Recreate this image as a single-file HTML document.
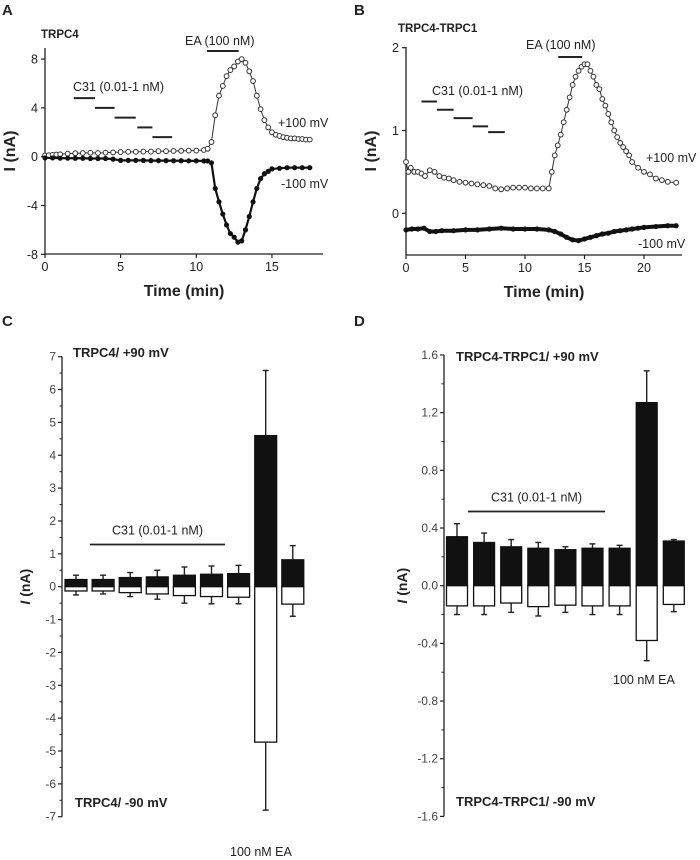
<!DOCTYPE html>
<html><head><meta charset="utf-8">
<style>
html,body{margin:0;padding:0;background:#fff;}
svg{display:block;font-family:"Liberation Sans",Arial,sans-serif;}
</style></head>
<body>
<svg id="fig" width="700" height="860" viewBox="0 0 700 860"></svg>
<script>
// ===== Panel A data (TRPC4 trace) =====
const aTimePos = [0,0.25,0.5,0.75,1,1.5,2,2.5,3,3.5,4,4.5,5,5.5,6,6.5,7,7.5,8,8.5,9,9.5,10,10.5,10.75,11,11.25,11.5,11.75,12,12.25,12.5,12.75,13,13.25,13.5,13.75,14,14.25,14.5,14.75,15,15.25,15.5,15.75,16,16.25,16.5,16.75,17,17.25,17.5];
const aValPos  = [0.1,0.12,0.15,0.18,0.2,0.25,0.28,0.3,0.32,0.3,0.33,0.35,0.38,0.4,0.4,0.42,0.42,0.45,0.45,0.47,0.48,0.5,0.5,0.55,0.65,1.2,3.4,5.0,5.8,6.6,7.1,7.4,7.8,8.0,7.7,7.0,6.2,5.0,3.9,3.0,2.4,2.0,1.8,1.7,1.6,1.55,1.5,1.5,1.45,1.45,1.4,1.4];
const aTimeNeg = [0,0.5,1,1.5,2,2.5,3,3.5,4,4.5,5,5.5,6,6.5,7,7.5,8,8.5,9,9.5,10,10.5,10.75,11,11.25,11.5,11.75,12,12.25,12.5,12.75,13,13.25,13.5,13.75,14,14.25,14.5,14.75,15,15.5,16,16.5,17,17.5];
const aValNeg  = [-0.1,-0.1,-0.12,-0.12,-0.13,-0.13,-0.15,-0.15,-0.15,-0.2,-0.3,-0.3,-0.3,-0.3,-0.32,-0.32,-0.32,-0.33,-0.33,-0.34,-0.34,-0.35,-0.35,-0.5,-2.6,-3.7,-4.7,-5.6,-6.3,-6.6,-7.0,-6.9,-6.0,-4.9,-3.7,-2.6,-1.8,-1.4,-1.2,-1.0,-0.95,-0.9,-0.9,-0.9,-0.9];
const aXTicks = [0,5,10,15];
const aYTicks = [-8,-4,0,4,8];
const aSteps = [[1.9,3.3,4.8],[3.3,4.6,4.0],[4.6,6.0,3.2],[6.1,7.1,2.4],[7.1,8.4,1.6]];

// ===== Panel B data (TRPC4-TRPC1 trace) =====
const bTimePos = [0,0.2,0.4,0.7,1,1.3,1.6,2,2.4,2.8,3.2,3.6,4,4.5,5,5.5,6,6.5,7,7.5,8,8.5,9,9.5,10,10.5,11,11.5,12,12.25,12.5,12.75,13,13.25,13.5,13.75,14,14.25,14.5,14.75,15,15.25,15.5,15.75,16,16.25,16.5,16.75,17,17.25,17.5,17.75,18,18.25,18.5,18.75,19,19.5,20,20.5,21,21.5,22,22.7];
const bValPos  = [0.62,0.5,0.55,0.5,0.5,0.48,0.45,0.52,0.5,0.45,0.43,0.42,0.4,0.38,0.37,0.36,0.35,0.34,0.33,0.3,0.29,0.3,0.31,0.31,0.31,0.3,0.3,0.3,0.3,0.5,0.7,0.82,0.95,1.1,1.25,1.4,1.55,1.65,1.72,1.77,1.8,1.8,1.72,1.65,1.55,1.5,1.38,1.3,1.2,1.1,1.0,0.92,0.85,0.8,0.75,0.7,0.62,0.55,0.5,0.47,0.42,0.4,0.38,0.37];
const bTimeNeg = [0,0.5,1,1.5,2,2.5,3,4,5,6,7,8,9,10,11,12,12.5,13,13.5,14,14.5,15,15.5,16,16.5,17,17.5,18,18.5,19,19.5,20,21,22,22.7];
const bValNeg  = [-0.2,-0.19,-0.19,-0.18,-0.22,-0.22,-0.21,-0.21,-0.2,-0.2,-0.19,-0.18,-0.19,-0.19,-0.19,-0.2,-0.22,-0.25,-0.29,-0.32,-0.33,-0.31,-0.29,-0.27,-0.25,-0.24,-0.22,-0.21,-0.2,-0.19,-0.18,-0.17,-0.16,-0.15,-0.15];
const bXTicks = [0,5,10,15,20];
const bYTicks = [0,1,2];
const bSteps = [[1.3,2.6,1.35],[2.6,4.0,1.25],[4.0,5.6,1.15],[5.6,6.9,1.05],[6.9,8.3,0.98]];

// ===== Panel C data (TRPC4 bars) =====
const cCats = ["ctrl","c1","c2","c3","c4","c5","c6","EA","wash"];
const cPos = [0.22,0.22,0.28,0.3,0.35,0.38,0.4,4.6,0.82];
const cPosErr = [0.13,0.13,0.15,0.2,0.25,0.25,0.25,1.98,0.43];
const cNeg = [-0.13,-0.13,-0.18,-0.22,-0.27,-0.3,-0.32,-4.73,-0.53];
const cNegErr = [0.12,0.09,0.12,0.16,0.23,0.22,0.2,2.07,0.37];
const cYTicks = [-7,-6,-5,-4,-3,-2,-1,0,1,2,3,4,5,6,7];

// ===== Panel D data (TRPC4-TRPC1 bars) =====
const dCats = ["ctrl","c1","c2","c3","c4","c5","c6","EA","wash"];
const dPos = [0.34,0.3,0.27,0.26,0.25,0.26,0.26,1.27,0.31];
const dPosErr = [0.09,0.065,0.05,0.04,0.02,0.03,0.02,0.22,0.01];
const dNeg = [-0.14,-0.14,-0.12,-0.145,-0.135,-0.14,-0.14,-0.38,-0.13];
const dNegErr = [0.06,0.06,0.065,0.065,0.05,0.06,0.06,0.14,0.05];
const dYTicks = [-1.6,-1.2,-0.8,-0.4,0,0.4,0.8,1.2,1.6];

const NS = "http://www.w3.org/2000/svg";
const svg = document.getElementById('fig');
function mk(tag, attrs, parent, text){
  const e = document.createElementNS(NS, tag);
  for (const k in attrs) e.setAttribute(k, attrs[k]);
  if (text !== undefined) e.textContent = text;
  (parent || svg).appendChild(e);
  return e;
}
function grp(name){
  const g = mk('g', {});
  
  
  return g;
}
function txt(parent, name, x, y, s, size, weight, anchor, extra){
  const t = mk('text', Object.assign({x:x, y:y, 'font-size':size, 'font-weight':weight||'normal', 'text-anchor':anchor||'start', fill:'#222'}, extra||{}), parent, s);
  
  
  return t;
}
function line(parent, x1,y1,x2,y2,w){
  return mk('line',{x1:x1,y1:y1,x2:x2,y2:y2,stroke:'#222','stroke-width':w||1.3},parent);
}

function tracePanel(o){
  const g = grp(o.name);
  const X = t => o.x0 + (t - o.tmin) * o.sx;
  const Y = v => o.y0 - v * o.sy;
  const ax = grp(o.name + '-axes'); g.appendChild(ax);
  line(ax, o.left, o.top, o.left, o.bottom, 1.3);
  line(ax, o.left, o.bottom, o.right, o.bottom, 1.3);
  o.xTicks.forEach(t => {
    line(ax, X(t), o.bottom, X(t), o.bottom+4, 1.2);
    txt(ax, 'x-tick-label', X(t), o.bottom+17, String(t), 12.5, 'normal', 'middle');
  });
  o.yTicks.forEach(v => {
    line(ax, o.left-4, Y(v), o.left, Y(v), 1.2);
    txt(ax, 'y-tick-label', o.left-7, Y(v)+4.5, String(v), 12.5, 'normal', 'end');
  });
  txt(ax, 'x-axis-title', (o.left+o.right)/2, o.bottom+42, 'Time (min)', 16, 'bold', 'middle');
  txt(ax, 'y-axis-title', 0, 0, 'I (nA)', 16, 'bold', 'middle', {transform:`translate(${o.left-30},${(o.top+o.bottom)/2}) rotate(-90)`});
  const sp = grp('series-plus100'); g.appendChild(sp);
  mk('polyline',{points:o.tPos.map((t,i)=>X(t)+','+Y(o.vPos[i])).join(' '),fill:'none',stroke:'#333','stroke-width':1},sp);
  o.tPos.forEach((t,i)=>{
    const c = mk('circle',{cx:X(t),cy:Y(o.vPos[i]),r:2.4,fill:'#fff',stroke:'#333','stroke-width':1},sp);
    
    
  });
  const sn = grp('series-minus100'); g.appendChild(sn);
  mk('polyline',{points:o.tNeg.map((t,i)=>X(t)+','+Y(o.vNeg[i])).join(' '),fill:'none',stroke:'#111','stroke-width':o.negW}, sn);
  o.tNeg.forEach((t,i)=>{
    const c = mk('circle',{cx:X(t),cy:Y(o.vNeg[i]),r:2.6,fill:'#111'},sn);
    
    
  });
  const st = grp('c31-steps'); g.appendChild(st);
  o.steps.forEach(s => line(st, X(s[0]), Y(s[2]), X(s[1]), Y(s[2]), 2));
  txt(st, 'c31-label', o.c31x, o.c31y, 'C31 (0.01-1 nM)', 12.5);
  const ea = grp('ea-bar'); g.appendChild(ea);
  line(ea, X(o.ea[0]), o.eaY, X(o.ea[1]), o.eaY, 2);
  txt(ea, 'ea-label', o.eaTx, o.eaTy, 'EA (100 nM)', 12.5);
  txt(g, 'plus100-label', o.p100[0], o.p100[1], '+100 mV', 12.5);
  txt(g, 'minus100-label', o.m100[0], o.m100[1], '-100 mV', 12.5);
  txt(g, 'panel-title', o.title[0], o.title[1], o.titleText, 11.5, 'bold');
  txt(g, 'panel-letter', o.letter[0], o.letter[1], o.letterText, 15, 'bold');
}

tracePanel({name:'panel-a', tmin:0, x0:45, sx:15.13, y0:156.7, sy:12.2,
  left:45, right:323, top:48, bottom:254,
  xTicks:aXTicks, yTicks:aYTicks, tPos:aTimePos, vPos:aValPos, tNeg:aTimeNeg, vNeg:aValNeg, negW:2.2,
  steps:aSteps, c31x:73, c31y:91, ea:[10.7,12.8], eaY:51, eaTx:185, eaTy:45,
  p100:[278,127], m100:[281,188], title:[41,38], titleText:'TRPC4', letter:[2,15], letterText:'A'});

tracePanel({name:'panel-b', tmin:0, x0:406, sx:11.9, y0:213.3, sy:82.8,
  left:406, right:682, top:47, bottom:255,
  xTicks:bXTicks, yTicks:bYTicks, tPos:bTimePos, vPos:bValPos, tNeg:bTimeNeg, vNeg:bValNeg, negW:4,
  steps:bSteps, c31x:432, c31y:95, ea:[12.8,14.8], eaY:57, eaTx:526, eaTy:49,
  p100:[646,162], m100:[638,248], title:[398,32], titleText:'TRPC4-TRPC1', letter:[354,15], letterText:'B'});

function barPanel(o){
  const g = grp(o.name);
  const Y = v => o.y0 - v * o.sy;
  const Xc = i => o.xc0 + i * o.dx;
  const ax = grp(o.name + '-y-axis'); g.appendChild(ax);
  const ymin = o.yTicks[0], ymax = o.yTicks[o.yTicks.length-1];
  line(ax, o.left, Y(ymax), o.left, Y(ymin), 1.3);
  o.yTicks.forEach((v,i) => {
    line(ax, o.left-4, Y(v), o.left, Y(v), 1.2);
    txt(ax, 'y-tick-label', o.left-6, Y(v)+4, o.fmt(v), 12, 'normal', 'end', {fill:'#444'});
    if (i < o.yTicks.length-1) { const m=(v+o.yTicks[i+1])/2; line(ax, o.left-2.5, Y(m), o.left, Y(m), 1); }
  });
  const yt = txt(ax, 'y-axis-title', 0, 0, '', 14, 'bold', 'middle', {transform:`translate(${o.left-o.titleOff},${Y(0)}) rotate(-90)`});
  mk('tspan',{'font-style':'italic'},yt,'I');
  mk('tspan',{},yt,' (nA)');
  const bars = grp(o.name + '-bars'); g.appendChild(bars);
  o.cats.forEach((c,i) => {
    const cx = Xc(i), hw = o.bw/2;
    line(bars, cx, Y(o.pos[i]), cx, Y(o.pos[i]+o.posErr[i]), 1.4);
    line(bars, cx-3, Y(o.pos[i]+o.posErr[i]), cx+3, Y(o.pos[i]+o.posErr[i]), 1.4);
    const rp = mk('rect',{x:cx-hw,y:Y(o.pos[i]),width:o.bw,height:Y(0)-Y(o.pos[i]),fill:'#111',stroke:'#111','stroke-width':1.2},bars);
    
    
    line(bars, cx, Y(o.neg[i]), cx, Y(o.neg[i]-o.negErr[i]), 1.4);
    line(bars, cx-3, Y(o.neg[i]-o.negErr[i]), cx+3, Y(o.neg[i]-o.negErr[i]), 1.4);
    const rn = mk('rect',{x:cx-hw,y:Y(0),width:o.bw,height:Y(o.neg[i])-Y(0),fill:'#fff',stroke:'#111','stroke-width':1.3},bars);
    
    
  });
  const cl = grp('c31-bracket'); g.appendChild(cl);
  line(cl, o.c31[0], o.c31[2], o.c31[1], o.c31[2], 1.8);
  txt(cl, 'c31-label', (o.c31[0]+o.c31[1])/2, o.c31[2]-10, 'C31 (0.01-1 nM)', 12.5, 'normal', 'middle');
  txt(g, 'ea-label', o.ea[0], o.ea[1], '100 nM EA', 12.5);
  txt(g, 'title-positive', o.tp[0], o.tp[1], o.tpText, 13, 'bold');
  txt(g, 'title-negative', o.tn[0], o.tn[1], o.tnText, 13, 'bold');
  txt(g, 'panel-letter', o.letter[0], o.letter[1], o.letterText, 15, 'bold');
}

barPanel({name:'panel-c', y0:586.7, sy:32.86, left:62, titleOff:32, xc0:76, dx:27.1, bw:22,
  yTicks:cYTicks, fmt:v=>String(v), cats:cCats, pos:cPos, posErr:cPosErr, neg:cNeg, negErr:cNegErr,
  c31:[90,225,544.5], ea:[230,856], tp:[73,357], tpText:'TRPC4/ +90 mV', tn:[75,807], tnText:'TRPC4/ -90 mV',
  letter:[2,326], letterText:'C'});

barPanel({name:'panel-d', y0:585.7, sy:144.2, left:444, titleOff:37, xc0:457, dx:27.1, bw:21,
  yTicks:dYTicks, fmt:v=>v.toFixed(1), cats:dCats, pos:dPos, posErr:dPosErr, neg:dNeg, negErr:dNegErr,
  c31:[468,605,511.5], ea:[613,684], tp:[456,361], tpText:'TRPC4-TRPC1/ +90 mV', tn:[456,806], tnText:'TRPC4-TRPC1/ -90 mV',
  letter:[354,326], letterText:'D'});
</script>
</body></html>
